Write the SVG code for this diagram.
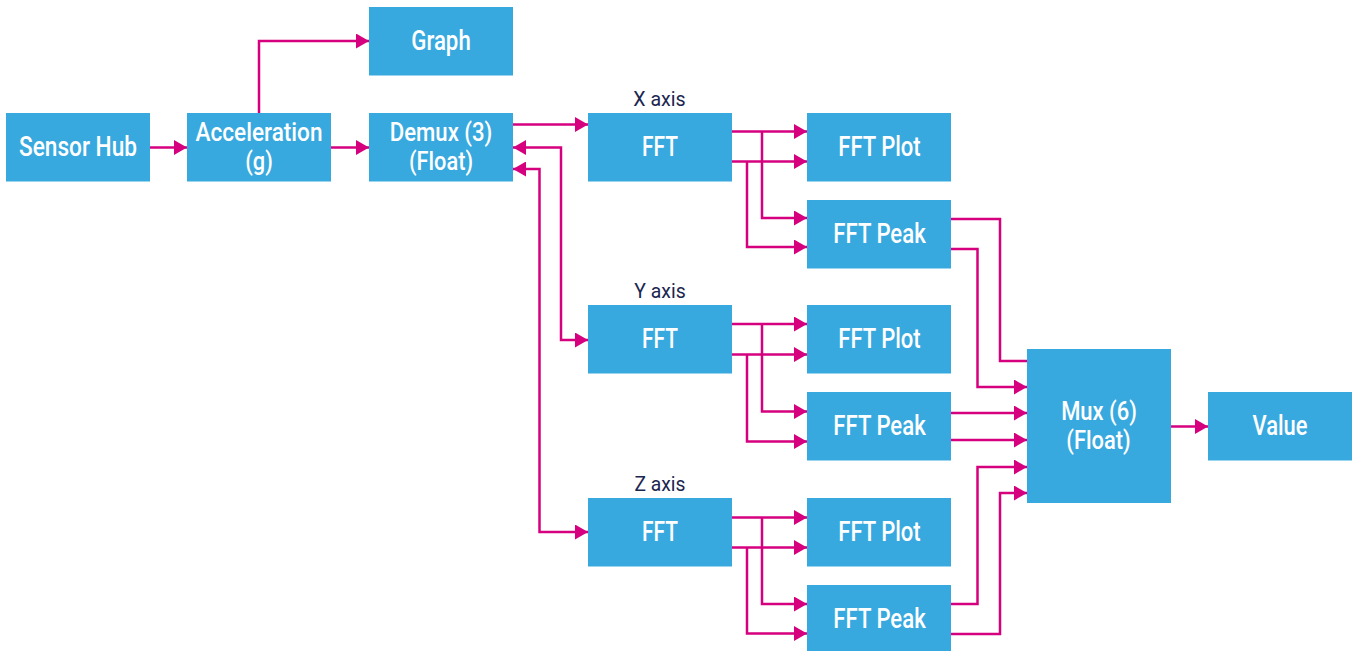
<svg xmlns="http://www.w3.org/2000/svg" width="1354" height="651" viewBox="0 0 1354 651">
<defs>
<style>
.box{fill:#38a9df}
.t{font-family:Roboto,"Liberation Sans",sans-serif;font-weight:500;font-size:27px;fill:#ffffff;text-anchor:middle}
.t2{font-size:26px}
.ax{font-family:Roboto,"Liberation Sans",sans-serif;font-weight:400;font-size:20px;fill:#1b2650;text-anchor:middle}
.c{fill:none;stroke:#d6007f;stroke-width:2.5;stroke-linejoin:miter}
.a{marker-end:url(#ah)}
.b{marker-start:url(#ah);marker-end:url(#ah)}
</style>
<marker id="ah" markerUnits="userSpaceOnUse" markerWidth="14" markerHeight="15" refX="13" refY="7.5" orient="auto-start-reverse">
<path d="M0,0 L13,7.5 L0,15 z" fill="#d6007f"/>
</marker>
</defs>
<rect width="1354" height="651" fill="#ffffff"/>
<g id="connectors">
<path class="c a" d="M150,147.5 H187"/>
<path class="c a" d="M331,147.5 H369"/>
<path class="c a" d="M259,113 V41 H369"/>
<path class="c a" d="M513,124.5 H588"/>
<path class="c b" d="M513,147.5 H561 V340 H588"/>
<path class="c b" d="M513,169 H539.5 V532 H588"/>
<path class="c a" d="M732,131.5 H807"/>
<path class="c a" d="M732,161.5 H807"/>
<path class="c a" d="M762,131.5 V218 H807"/>
<path class="c a" d="M747,161.5 V247 H807"/>
<path class="c a" d="M732,324 H807"/>
<path class="c a" d="M732,354.5 H807"/>
<path class="c a" d="M762,324 V411.5 H807"/>
<path class="c a" d="M747,354.5 V441.5 H807"/>
<path class="c a" d="M732,517.5 H807"/>
<path class="c a" d="M732,547.5 H807"/>
<path class="c a" d="M762,517.5 V604 H807"/>
<path class="c a" d="M747,547.5 V633.5 H807"/>
<path class="c" d="M951,219 H1000 V361 H1027"/>
<path class="c a" d="M951,249 H977.5 V387 H1027"/>
<path class="c a" d="M951,413 H1027"/>
<path class="c a" d="M951,440 H1027"/>
<path class="c a" d="M951,604 H977.5 V467 H1027"/>
<path class="c a" d="M951,634 H1000 V493 H1027"/>
<path class="c a" d="M1171,426.5 H1208"/>
</g>
<g id="sensor-hub"><rect class="box" x="6" y="113" width="144" height="68.5"/><text class="t" x="78" y="155.5" textLength="118" lengthAdjust="spacingAndGlyphs">Sensor Hub</text></g>
<g id="acceleration"><rect class="box" x="187" y="113" width="144" height="68.5"/><text class="t t2" x="259" y="140.5" textLength="127" lengthAdjust="spacingAndGlyphs">Acceleration</text><text class="t t2" x="259" y="169.5" textLength="27.5" lengthAdjust="spacingAndGlyphs">(g)</text></g>
<g id="graph"><rect class="box" x="369" y="7" width="144" height="68.5"/><text class="t" x="441" y="49.5" textLength="59.5" lengthAdjust="spacingAndGlyphs">Graph</text></g>
<g id="demux"><rect class="box" x="369" y="113" width="144" height="68.5"/><text class="t t2" x="441" y="140.5" textLength="102.5" lengthAdjust="spacingAndGlyphs">Demux (3)</text><text class="t t2" x="441" y="169.5" textLength="64" lengthAdjust="spacingAndGlyphs">(Float)</text></g>
<g id="x-label"><text class="ax" x="659.5" y="105.5" textLength="52.4" lengthAdjust="spacingAndGlyphs">X axis</text></g>
<g id="fft-x"><rect class="box" x="588" y="113" width="144" height="68.5"/><text class="t" x="660" y="155.5" textLength="36" lengthAdjust="spacingAndGlyphs">FFT</text></g>
<g id="fft-plot-x"><rect class="box" x="807" y="113" width="144" height="68.5"/><text class="t" x="879.5" y="155.5" textLength="82.4" lengthAdjust="spacingAndGlyphs">FFT Plot</text></g>
<g id="fft-peak-x"><rect class="box" x="807" y="200" width="144" height="68.5"/><text class="t" x="879.5" y="242.5" textLength="92.4" lengthAdjust="spacingAndGlyphs">FFT Peak</text></g>
<g id="y-label"><text class="ax" x="660" y="297.5" textLength="51.4" lengthAdjust="spacingAndGlyphs">Y axis</text></g>
<g id="fft-y"><rect class="box" x="588" y="305" width="144" height="68.5"/><text class="t" x="660" y="347.5" textLength="36" lengthAdjust="spacingAndGlyphs">FFT</text></g>
<g id="fft-plot-y"><rect class="box" x="807" y="305" width="144" height="68.5"/><text class="t" x="879.5" y="347.5" textLength="82.4" lengthAdjust="spacingAndGlyphs">FFT Plot</text></g>
<g id="fft-peak-y"><rect class="box" x="807" y="392" width="144" height="68.5"/><text class="t" x="879.5" y="434.5" textLength="92.4" lengthAdjust="spacingAndGlyphs">FFT Peak</text></g>
<g id="z-label"><text class="ax" x="660" y="491" textLength="51" lengthAdjust="spacingAndGlyphs">Z axis</text></g>
<g id="fft-z"><rect class="box" x="588" y="498" width="144" height="68.5"/><text class="t" x="660" y="540.5" textLength="36" lengthAdjust="spacingAndGlyphs">FFT</text></g>
<g id="fft-plot-z"><rect class="box" x="807" y="498" width="144" height="68.5"/><text class="t" x="879.5" y="540.5" textLength="82.4" lengthAdjust="spacingAndGlyphs">FFT Plot</text></g>
<g id="fft-peak-z"><rect class="box" x="807" y="585" width="144" height="68.5"/><text class="t" x="879.5" y="627.5" textLength="92.4" lengthAdjust="spacingAndGlyphs">FFT Peak</text></g>
<g id="mux"><rect class="box" x="1027" y="349" width="144" height="154"/><text class="t t2" x="1099" y="419.5" textLength="75.7" lengthAdjust="spacingAndGlyphs">Mux (6)</text><text class="t t2" x="1098.5" y="448.5" textLength="64.4" lengthAdjust="spacingAndGlyphs">(Float)</text></g>
<g id="value"><rect class="box" x="1208" y="392" width="144" height="68.5"/><text class="t" x="1280" y="434.5" textLength="55" lengthAdjust="spacingAndGlyphs">Value</text></g>
</svg>
